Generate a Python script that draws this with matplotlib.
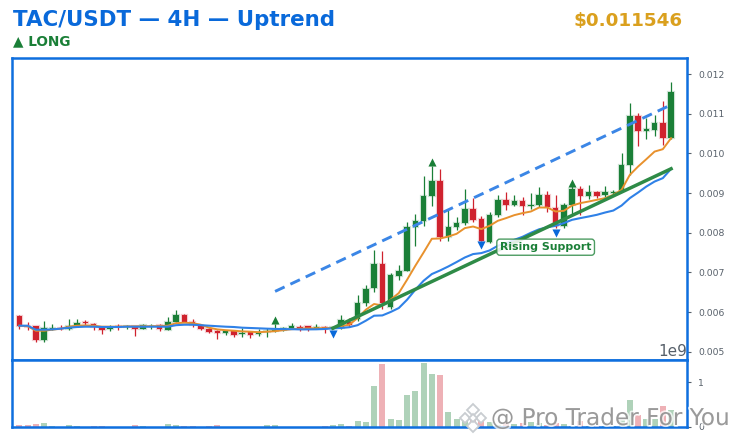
import matplotlib
matplotlib.use("Agg")
import matplotlib.patheffects as pe
import matplotlib.pyplot as plt
from matplotlib.patches import Polygon
import numpy as np

# candle prices, in millionths of a USDT
opens = [5890, 5655, 5638, 5302, 5580, 5605, 5572, 5655, 5738, 5706,
         5630, 5562, 5638, 5612, 5638, 5580, 5638, 5673, 5554, 5756,
         5932, 5756, 5655, 5580, 5512, 5461, 5512, 5436, 5486, 5436,
         5496, 5529, 5554, 5605, 5630, 5655, 5587, 5630, 5597, 5597,
         5756, 5832, 6227, 6605, 7218, 6116, 6915, 7041, 8142, 8301,
         8931, 9309, 7890, 8142, 8243, 8604, 8352, 7764, 8452, 8830,
         8704, 8805, 8662, 8704, 8956, 8620, 8157, 8704, 9100, 8931,
         9032, 8956, 9007, 9065, 9712, 10947, 10577, 10594, 10778, 10400]
closes = [5655, 5622, 5302, 5597, 5605, 5572, 5655, 5731, 5713, 5622,
          5554, 5612, 5622, 5655, 5580, 5680, 5655, 5580, 5756, 5932,
          5756, 5663, 5580, 5504, 5471, 5512, 5428, 5479, 5428, 5496,
          5529, 5554, 5597, 5655, 5580, 5587, 5630, 5572, 5612, 5806,
          5680, 6235, 6588, 7218, 6227, 6940, 7041, 8150, 8301, 8931,
          9309, 7890, 8142, 8243, 8604, 8326, 7797, 8452, 8830, 8686,
          8805, 8662, 8704, 8956, 8636, 8157, 8704, 9100, 8931, 9032,
          8931, 9032, 9024, 9712, 10947, 10577, 10612, 10778, 10400, 11546]
highs = [5932, 5738, 5655, 5781, 5706, 5673, 5832, 5832, 5806, 5731,
         5648, 5673, 5706, 5663, 5655, 5698, 5706, 5706, 5864, 6058,
         5958, 5832, 5698, 5605, 5554, 5529, 5529, 5597, 5529, 5572,
         5597, 5706, 5622, 5723, 5673, 5655, 5706, 5655, 5622, 5932,
         5857, 6436, 6688, 7570, 7537, 6983, 7192, 8276, 8478, 9435,
         9670, 9612, 8578, 8394, 9100, 8873, 8427, 8520, 8956, 9024,
         8956, 8898, 8998, 9158, 9040, 8956, 8747, 9166, 9166, 9208,
         9057, 9183, 9082, 10007, 11282, 11015, 10889, 10972, 11325, 11804]
lows = [5580, 5554, 5252, 5234, 5554, 5537, 5554, 5622, 5663, 5554,
        5454, 5512, 5537, 5562, 5386, 5562, 5580, 5529, 5537, 5738,
        5738, 5612, 5537, 5461, 5328, 5411, 5378, 5378, 5353, 5386,
        5370, 5486, 5529, 5572, 5529, 5512, 5562, 5461, 5580, 5580,
        5630, 5764, 6142, 6494, 6076, 6084, 6814, 7024, 7671, 8175,
        8662, 7780, 7780, 8074, 8200, 8268, 7797, 7739, 8384, 8578,
        8662, 8436, 8595, 8654, 8510, 8117, 8117, 8452, 8452, 8856,
        8881, 8873, 8956, 9040, 9460, 10191, 10368, 10443, 10216, 10360]
ema_fast = [5655, 5642, 5529, 5529, 5554, 5580, 5630, 5655, 5663, 5655,
            5630, 5630, 5630, 5638, 5638, 5642, 5642, 5647, 5655, 5718,
            5731, 5718, 5680, 5605, 5562, 5542, 5529, 5512, 5504, 5491,
            5504, 5516, 5542, 5567, 5580, 5587, 5592, 5592, 5600, 5642,
            5680, 5849, 6058, 6202, 6166, 6310, 6479, 6814, 7166, 7501,
            7847, 7854, 7904, 7972, 8116, 8156, 8091, 8174, 8300, 8368,
            8443, 8494, 8534, 8635, 8635, 8534, 8552, 8685, 8746, 8786,
            8829, 8872, 8955, 9081, 9459, 9668, 9854, 10046, 10106, 10383]
ema_slow = [5655, 5655, 5554, 5554, 5562, 5580, 5605, 5622, 5630, 5630,
            5622, 5622, 5622, 5630, 5630, 5630, 5630, 5630, 5630, 5668,
            5680, 5680, 5668, 5655, 5642, 5630, 5622, 5605, 5597, 5589,
            5580, 5574, 5569, 5567, 5562, 5562, 5564, 5572, 5589, 5597,
            5617, 5668, 5781, 5907, 5914, 6000, 6101, 6310, 6562, 6788,
            6957, 7048, 7149, 7260, 7375, 7461, 7486, 7552, 7670, 7733,
            7821, 7897, 7998, 8086, 8136, 8174, 8242, 8325, 8368, 8408,
            8451, 8509, 8559, 8685, 8872, 9013, 9164, 9290, 9376, 9610]

# volume in units of 1e9
volumes = [.045, .045, .067, .09, .012, .01, .045, .012, .01, .012,
           .012, .01, .01, .01, .045, .012, .01, .01, .067, .045,
           .012, .012, .01, .012, .045, .01, .01, .01, .01, .01,
           .045, .045, .01, .01, .01, .01, .01, .012, .045, .067,
           .012, .134, .11, .92, 1.41, .18, .157, .716, .806, 1.43,
           1.19, 1.16, .336, .18, .246, .157, .157, .11, .05, .11,
           .067, .08, .11, .08, .045, .08, .067, .03, .134, .02,
           .02, .02, .03, .157, .6, .27, .18, .18, .47, .38]

# trend lines and signals
support_x, support_y = [38, 79], [5592, 9612]
channel_x, channel_y = [31, 79], [6520, 11224]
long_x, long_y = [31, 50, 67], [5806, 9786, 9257]
short_x, short_y = [38, 56, 65], [5453, 7695, 7998]
label_x, label_y = 58.25, 7635
price_ticks = [0.005, 0.006, 0.007, 0.008, 0.009, 0.010, 0.011, 0.012]
volume_ticks = [0, 1e9]

BLUE = "#0969da"
GREEN = "#1a7f37"
RED = "#cf222e"
GREY = "#57606a"


def main():
    o, c = np.array(opens) / 1e6, np.array(closes) / 1e6
    h, l = np.array(highs) / 1e6, np.array(lows) / 1e6
    x = np.arange(len(o))
    colors = [GREEN if b >= a else RED for a, b in zip(o, c)]
    halo = [matplotlib.colors.to_rgba(col, 0.22) for col in colors]

    fig = plt.figure(figsize=(7.37, 4.43), dpi=100)
    ax = fig.add_axes([11.5 / 737, 83 / 443, 675.5 / 737, 302.5 / 443])
    vol = fig.add_axes([11.5 / 737, 16 / 443, 675.5 / 737, 67 / 443])

    # candles
    ax.vlines(x, l, h, colors=colors, linewidth=0.9, zorder=2)
    ax.bar(x, np.abs(c - o), bottom=np.minimum(o, c), width=0.68, color=colors,
           edgecolor=halo, linewidth=1.6, zorder=3)

    # moving averages and trend lines
    ax.plot(x, np.array(ema_fast) / 1e6, color="#e8912d", lw=1.4, zorder=4)
    ax.plot(x, np.array(ema_slow) / 1e6, color="#2f81e7", lw=1.5, zorder=5)
    ax.plot(channel_x, np.array(channel_y) / 1e6, color="#3b86e6", lw=2.1,
            dashes=(3.6, 2.2), zorder=5)
    ax.plot(support_x, np.array(support_y) / 1e6, color="#2e8b47", lw=2.5,
            zorder=6)

    # signals
    ax.scatter(long_x, np.array(long_y) / 1e6, marker="^", s=34, color=GREEN,
               linewidths=0, zorder=7)
    ax.scatter(short_x, np.array(short_y) / 1e6, marker="v", s=34, color=BLUE,
               linewidths=0, zorder=7)
    ax.text(label_x, label_y / 1e6, "Rising Support", color=GREEN, fontsize=7.9,
            fontweight="bold", va="center", ha="left", zorder=8,
            bbox=dict(boxstyle="round,pad=0.28", fc="white", ec="#2e8b47",
                      lw=1.0, alpha=0.85))

    ax.set_xlim(-0.95, 80.93)
    ax.set_ylim(0.00479, 0.012418)
    ax.set_yticks(price_ticks)
    ax.set_yticklabels([f"{t:.3f}" for t in price_ticks])

    # volume
    vol.bar(x, np.array(volumes) * 1e9, width=0.74, color=colors, alpha=0.35,
            linewidth=0)
    vol.set_xlim(ax.get_xlim())
    vol.set_ylim(0, 1.5e9)
    vol.set_yticks(volume_ticks)
    vol.yaxis.get_offset_text().set_fontsize(11)
    vol.yaxis.get_offset_text().set_color(GREY)

    for a in (ax, vol):
        a.set_xticks([])
        a.yaxis.tick_right()
        a.tick_params(axis="y", length=3, width=0.8, pad=5, labelsize=6.7,
                      colors=GREY)
        for spine in a.spines.values():
            spine.set_color("#0f6fde")
            spine.set_linewidth(1.8)

    # header
    fig.text(13 / 737, 1 - 20.5 / 443, "TAC/USDT — 4H — Uptrend", color=BLUE,
             fontsize=15.4, fontweight="bold", va="center", ha="left")
    fig.text(683 / 737, 1 - 21 / 443, "$0.011546", color="#daa01e", fontsize=13.2,
             fontweight="bold", va="center", ha="right")
    fig.text(13 / 737, 1 - 41 / 443, "▲ LONG", color=GREEN, fontsize=9.8,
             fontweight="bold", va="center", ha="left")

    # watermark
    fig.text(491 / 737, 1 - 418.5 / 443, "@ Pro Trader For You", color="#6e6e6e",
             fontsize=16.7, alpha=0.62, va="center", ha="left", zorder=20,
             path_effects=[pe.withStroke(linewidth=2.5, foreground="white",
                                         alpha=0.75)])
    for cx, cy, r in [(473, 410, 6), (465, 418, 5), (481, 418, 5), (473, 426, 6),
                      (473, 418, 4)]:
        pts = [(cx - r, cy), (cx, cy - r), (cx + r, cy), (cx, cy + r)]
        pts = [(px / 737, 1 - py / 443) for px, py in pts]
        fig.add_artist(Polygon(pts, closed=True, transform=fig.transFigure,
                               fc="white", ec="#c9cdd1", lw=1.3, zorder=19))

    fig.savefig("out.png", dpi=100)


if __name__ == "__main__":
    main()
